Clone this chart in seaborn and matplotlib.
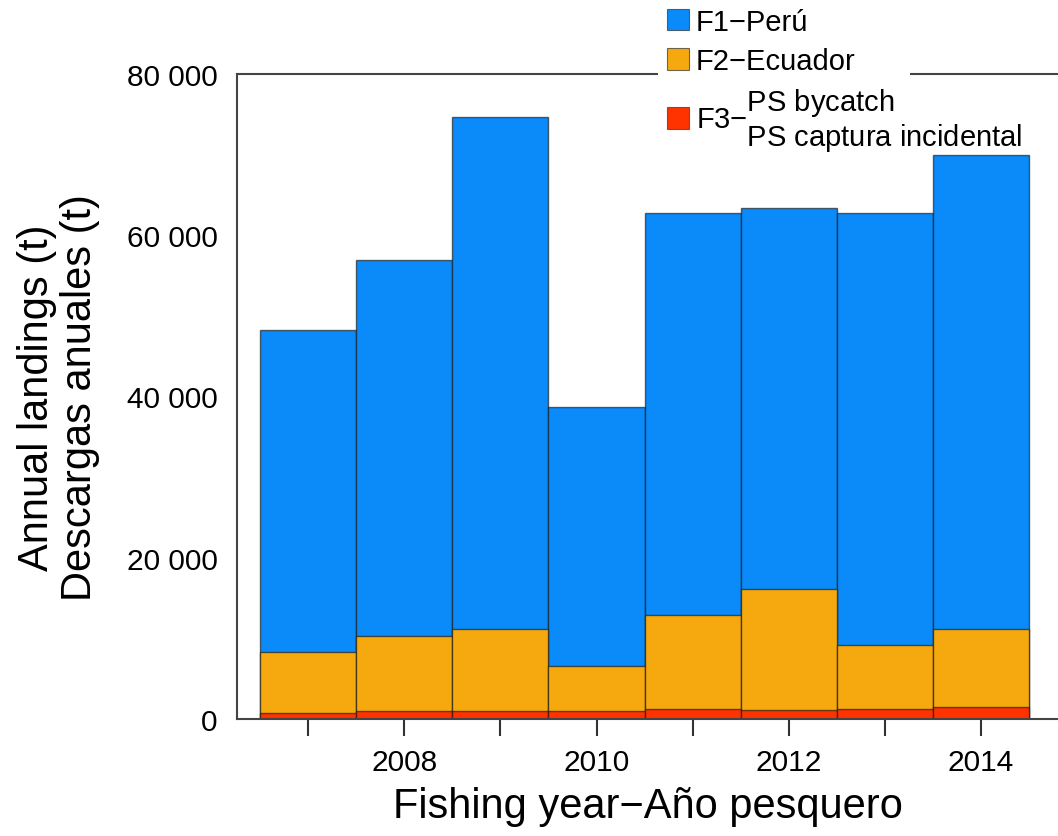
import numpy as np
import pandas as pd
import matplotlib
matplotlib.use("Agg")
import matplotlib.pyplot as plt
import seaborn as sns
from matplotlib.patches import Patch
from matplotlib.ticker import FuncFormatter

# ---- data ----
years = [2007, 2008, 2009, 2010, 2011, 2012, 2013, 2014]
f1_peru = [39940, 46640, 63540, 32120, 49860, 47260, 53580, 58790]
f2_ecuador = [7570, 9300, 10130, 5630, 11620, 14960, 7900, 9670]
f3_bycatch = [780, 950, 1030, 990, 1280, 1160, 1280, 1490]
y_ticks = [0, 20000, 40000, 60000, 80000]
series_labels = [
    "F1\u2212Perú",
    "F2\u2212Ecuador",
    "F3\u2212" + r"$\genfrac{}{}{0}{0}{\mathrm{PS\ bycatch}\hspace{5.27}}{\mathrm{PS\ captura\ incidental}}$",
]
colors = ["#0A8BF9", "#F6A90E", "#FF3300"]

sns.set_style("ticks")
plt.rcParams['font.family'] = ['Liberation Sans', 'DejaVu Sans']
plt.rcParams['mathtext.fontset'] = 'custom'
plt.rcParams['mathtext.rm'] = 'Liberation Sans'
plt.rcParams['mathtext.it'] = 'Liberation Sans:italic'
plt.rcParams['mathtext.bf'] = 'Liberation Sans:bold'
plt.rcParams['text.color'] = 'black'
plt.rcParams['axes.labelcolor'] = 'black'
plt.rcParams['xtick.labelcolor'] = 'black'
plt.rcParams['ytick.labelcolor'] = 'black'

df = pd.DataFrame({"year": years, "f1": f1_peru, "f2": f2_ecuador, "f3": f3_bycatch})
df["top_f3"] = df["f3"]
df["top_f2"] = df["top_f3"] + df["f2"]
df["top_f1"] = df["top_f2"] + df["f1"]

fig = plt.figure(figsize=(10.58, 8.37), dpi=100)
ax = fig.add_axes([0.224, 0.1398, 0.776, 0.7706])

edge = (0.1, 0.1, 0.1, 0.65)
for col, c in zip(["top_f1", "top_f2", "top_f3"], colors):
    sns.barplot(data=df, x="year", y=col, native_scale=True, width=1,
                color=c, saturation=1, errorbar=None,
                edgecolor=edge, linewidth=1, ax=ax)

ax.set_xlim(2006.26, 2014.8)
ax.set_ylim(0, 80000)
ax.set_xticks(years)
ax.set_xticklabels([str(y) if y % 2 == 0 else "" for y in years])
ax.set_yticks(y_ticks)
ax.yaxis.set_major_formatter(FuncFormatter(lambda v, p: f"{v:,.0f}".replace(",", " ")))

ax.tick_params(axis='x', length=12, width=1.5, color='#333333', pad=9, labelsize=21.5,
               labelcolor='black')
ax.tick_params(axis='y', length=0, pad=14, labelsize=21.5, labelcolor='black')

for s in ["left", "bottom", "top"]:
    ax.spines[s].set_color('#444444')
    ax.spines[s].set_linewidth(1.5)
ax.spines["right"].set_visible(False)

ax.set_xlabel("Fishing year\u2212Año pesquero", fontsize=30, labelpad=7, color='black')
ax.set_ylabel("Annual landings (t)\nDescargas anuales (t)", fontsize=30,
              labelpad=19, linespacing=1.1, color='black')

handles = [Patch(facecolor=c, edgecolor=(0.2, 0.2, 0.2, 0.7), linewidth=0.8) for c in colors]
fig.legend(handles, series_labels, loc="upper left",
           bbox_to_anchor=(0.622, 0.0, 0.238, 1.0), bbox_transform=fig.transFigure,
           mode="expand", borderaxespad=0, borderpad=0.3, frameon=True,
           fancybox=False, framealpha=1, facecolor="white", edgecolor="none",
           fontsize=21, handlelength=0.75, handleheight=0.75,
           handletextpad=0.25, labelspacing=0.39)

fig.savefig("out.png", dpi=100)
